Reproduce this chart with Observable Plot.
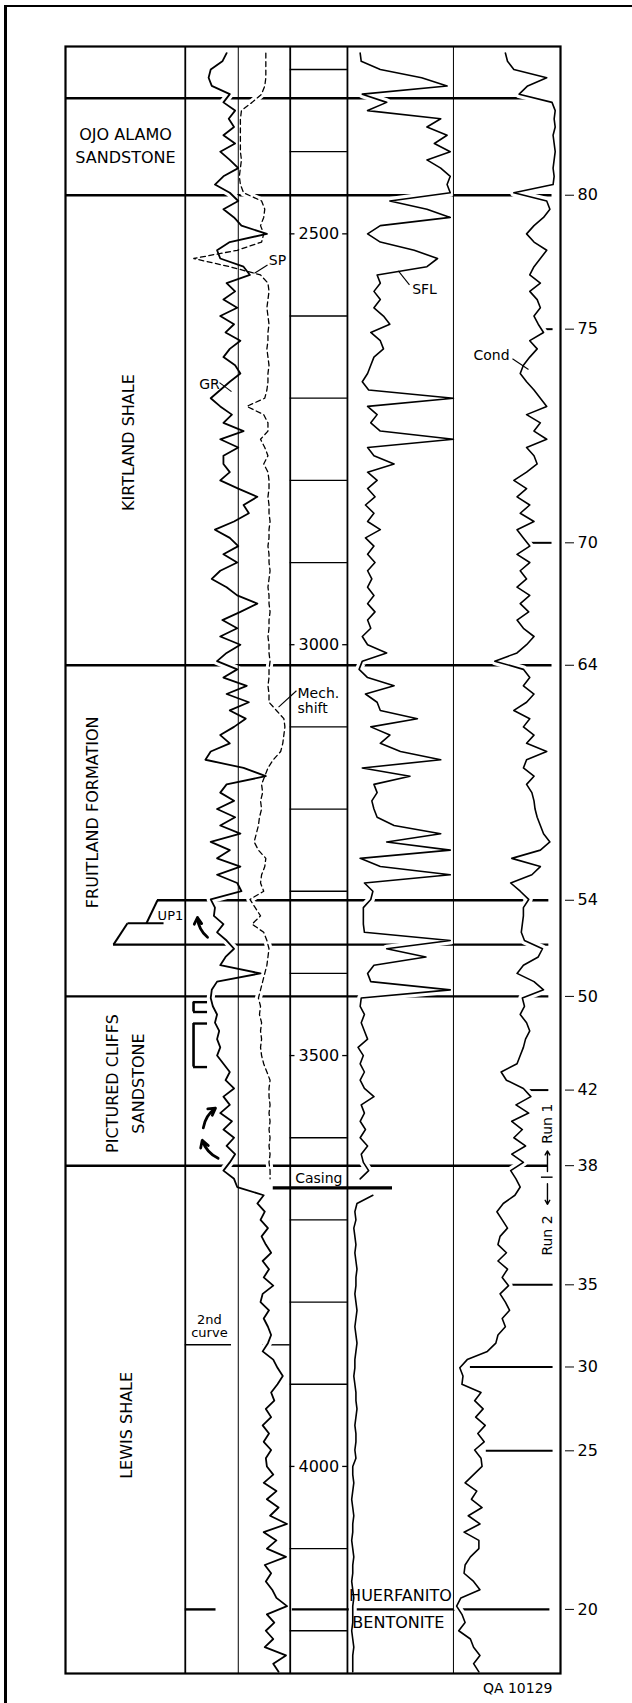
<!DOCTYPE html>
<html><head><meta charset="utf-8">
<script src="https://cdn.jsdelivr.net/npm/d3@7"></script>
<script src="https://cdn.jsdelivr.net/npm/@observablehq/plot@0.6"></script>
<style>
html,body{margin:0;padding:0;background:#fff;}
#wrap{position:relative;width:632px;height:1703px;overflow:hidden;background:#fff;}
#wrap svg{position:absolute;left:0;top:0;}
#frame{position:absolute;left:4px;top:5px;width:700px;height:1800px;border-left:3px solid #000;border-top:2.5px solid #000;pointer-events:none;}
</style></head><body><div id="wrap"></div>
<script>
// ---------- DATA ----------
const depthTop = 2280, depthStep = 10;           // sample grid, ft
// Gamma ray (track 1, 0-100 deflection), 2280-4250 ft
const grValues = [
 39,35,24,22,25,42,36,47,41,46, 36,47,33,42,50,36,28,42,50,36, 46,53,77,42,30,33,55,61,39,47, 36,49,33,46,38,52,42,36,47,52, 42,33,24,33,44,36,55,33,50,36,
 36,42,33,50,68,55,60,46,28,42, 50,36,49,33,25,39,49,68,52,35, 49,33,52,39,30,49,36,58,39,60, 42,57,46,33,42,24,19,55,76,39, 33,46,30,47,33,52,24,42,30,
 52,30,49,53,24,28,27,36,30,39, 46,38,33,71,30,25,24,26,30,28, 32,30,33,30,36,42,38,46,36,42, 33,44,36,46,39,47,42,36,46,49, 74,68,75,71,78,72,
 76,81,73,79,74,83,73,71,79,74, 78,81,78,73,83,87,92,87,81,84, 76,81,73,79,74,81,76,
 77,83,74,86,77,88,80,96,74,86, 77,95,75,81,76,82,86,96,77,84, 76,83,75,95,83,88
];
// Spontaneous potential (track 1), 2280-3650 ft (run 1 only)
const spValues = [
 76,76,76,76,75,72,63,53,52,52, 52,52,52,53,52,51,52,55,72,75, 74,71,74,72,49,8,42,71,78,79, 78,77,78,79,78,78,77,78,79,78, 78,77,75,58,74,78,78,71,75,78,
 74,78,79,79,78,79,79,80,79,79, 78,79,79,80,79,78,79,79,80,79, 79,78,79,79,80,79,79,78,79,79, 86,93,94,93,92,90,83,78,75,72, 73,71,72,70,69,67,65,69,76,
 75,72,71,74,61,66,71,63,74,77, 79,78,77,75,73,71,69,71,70,72, 71,72,71,72,74,77,80,79,79,80, 79,80,79,80,79,80,79,80,80
];
// SFL resistivity (track 2), run 1: 2280-3650 ft
const sflRun1 = [
 12,13,31,70,94,14,37,19,88,75, 94,82,97,75,88,97,94,97,40,75, 97,31,19,31,63,85,75,28,31,25, 31,25,34,40,22,31,34,25,22,19, 14,20,100,19,28,22,31,100,19,25,
 44,19,28,19,26,17,25,19,31,17, 25,19,26,19,23,19,25,19,26,19, 22,14,19,37,14,11,19,44,17,28, 31,66,22,40,31,50,88,14,59,25, 28,23,25,28,44,88,37,97,12,
 31,97,16,24,22,15,15,15,16,97, 37,74,25,19,22,97,13,12,16,13, 16,19,10,15,12,16,12,16,25,13, 16,12,17,12,19,13,15,20,12
];
// SFL run 2: 3670-4250 ft
const sflRun2Top = 3670;
const sflRun2 = [
 24,9,7,8,6,7, 8,7,8,9,8,8,7,8,9,8, 7,8,9,8,7,7,6,7,8,8, 9,8,7,8,8,7,8,
 5,5,6,5,4,5,6,5,5,4, 5,6,5,5,4,5,6,5,5,5, 4,5,6,5,5,5
];
// Conductivity (track 3), 2280-4250 ft
const condValues = [
 49,51,57,88,70,62,93,96,95,96, 94,95,96,95,94,95,94,57,88,91, 85,76,69,76,88,82,76,72,82,72, 79,82,76,80,85,72,79,72,66,63, 69,76,82,88,69,82,76,88,69,76,
 79,69,57,69,60,72,63,76,60,66, 72,60,72,63,69,60,72,63,71,60, 66,76,69,60,39,66,72,66,76,69, 57,72,66,76,69,88,69,66,76,69, 74,76,77,79,82,85,91,82,55,
 82,74,54,63,71,66,66,65,64,67, 84,80,66,60,76,85,65,67,63,69, 72,68,66,63,60,45,50,66,73,59, 71,55,65,57,68,55,66,54,59,63, 58,47,41,46,51,44,
 42,50,42,51,46,52,44,49,53,46, 49,42,40,32,13,6,9,8,26,20, 28,21,30,23,29,20,26,
 27,19,11,22,17,27,14,25,10,24, 24,16,11,10,19,25,7,3,8,11, 5,16,19,25,19,24
];
// Right-hand marker numbers and their depths
const markerLabels = ["80","75","70","64","54","50","42","38","35","30","25","20"];
const markerDepths = [2453,2616,2876,3025,3311,3428,3542,3634,3779,3879,3981,4174];
// Depth column labels
const depthLabels = [2500, 3000, 3500, 4000];
// Formations (each line of a name as its own entry)
const formationLines = ["OJO ALAMO","SANDSTONE","KIRTLAND SHALE","FRUITLAND FORMATION","PICTURED CLIFFS","SANDSTONE","LEWIS SHALE"];
const formationTops = [2335, 2453, 3025, 3428, 3634];
// Perforated intervals (brackets)
const perfTops = [3435, 3461];
const perfBases = [3447, 3514];
const casingDepth = 3661;
const spliceDepth = 3852;
const huerfanitoDepth = 4174;

// ---------- LAYOUT (chart units: 1 unit ≈ 1.06 px) ----------
const COL = {grLeft: 113, grMid: 163, depthLeft: 212, depthRight: 266, sflLeft: 266, condLeft: 366, right: 467};
const depthMid = (COL.depthLeft + COL.depthRight) / 2;

const depthAt = i => depthTop + i * depthStep;
const grRows = grValues.map((v, i) => ({depth: depthAt(i), x: COL.grLeft + v}));
const spRows = spValues.map((v, i) => ({depth: depthAt(i), x: COL.grLeft + v}));
const sflRows = [
  ...sflRun1.map((v, i) => ({run: 1, depth: depthAt(i), x: COL.sflLeft + v})),
  ...sflRun2.map((v, i) => ({run: 2, depth: sflRun2Top + i * depthStep, x: COL.sflLeft + v}))
];
const condRows = condValues.map((v, i) => ({depth: depthAt(i), x: COL.condLeft + v}));

const boundaries = [
  {depth: formationTops[0], x1: 0, x2: 447},
  {depth: formationTops[1], x1: 0, x2: 459},
  {depth: formationTops[2], x1: 0, x2: 459},
  {depth: markerDepths[4], x1: 86.8, x2: 456},
  {depth: 3365, x1: 45.3, x2: 456},
  {depth: formationTops[3], x1: 0, x2: 456},
  {depth: formationTops[4], x1: 0, x2: 455},
  {depth: huerfanitoDepth, x1: 113, x2: 142},
  {depth: huerfanitoDepth, x1: 214, x2: 457}
];
const markerLines = [
  {depth: markerDepths[1], x1: 450, x2: 460},
  {depth: markerDepths[2], x1: 437, x2: 459},
  {depth: markerDepths[6], x1: 431, x2: 456},
  {depth: markerDepths[8], x1: 420, x2: 460},
  {depth: markerDepths[9], x1: 382, x2: 460},
  {depth: markerDepths[10], x1: 397, x2: 460}
];
const up1Segs = [
  {x1: 86.8, y1: 3311, x2: 76.4, y2: 3339},
  {x1: 58.5, y1: 3339, x2: 92.5, y2: 3339},
  {x1: 58.5, y1: 3339, x2: 45.3, y2: 3365}
];
const perfs = perfTops.map((t, i) => ({top: t, base: perfBases[i]}));
const flowArrows = [
  {x1: 134, y1: 3356, x2: 124.5, y2: 3332},
  {x1: 130, y1: 3588, x2: 141.5, y2: 3564},
  {x1: 144, y1: 3625, x2: 129, y2: 3603}
];
const formationLabels = formationLines.map((name, i) => ({
  name,
  x: [56.6, 56.6, 59.4, 25.5, 44.3, 68.9, 57.5][i],
  depth: [2380, 2407, 2754, 3204, 3534, 3534, 3950][i],
  rotate: i < 2 ? 0 : -90
}));
const curveLabels = [
  {t: "GR", x: 135.8, depth: 2683},
  {t: "SP", x: 200, depth: 2532},
  {t: "SFL", x: 338.7, depth: 2568},
  {t: "Cond", x: 401.9, depth: 2648}
];
const pointers = [
  {x1: 145.3, y1: 2681, x2: 156.6, y2: 2692},
  {x1: 190.6, y1: 2538, x2: 178.3, y2: 2548},
  {x1: 324.5, y1: 2562, x2: 314, y2: 2545},
  {x1: 421.7, y1: 2652, x2: 436.8, y2: 2665},
  {x1: 217.9, y1: 3056, x2: 201, y2: 3076}
];
const gridDepths = d3.range(2300, 4300, 100).filter(d => d % 500 !== 0);
const labelByDepth = new Map(markerDepths.map((d, i) => [d, markerLabels[i]]));

const halo = {stroke: "#fff", strokeWidth: 8, strokeLinejoin: "round"};
const ink = "#000";

const chart = Plot.plot({
  width: 632, height: 1703,
  marginLeft: 65, marginRight: 72, marginTop: 46, marginBottom: 30,
  x: {domain: [0, COL.right], axis: null},
  y: {domain: [2272, 4252], reverse: true, axis: null},
  style: {fontFamily: "'DejaVu Sans', sans-serif", fontSize: "16px", color: "#000", background: "transparent", overflow: "visible"},
  marks: [
    // formation boundaries and marker lines
    Plot.ruleY(boundaries, {y: "depth", x1: "x1", x2: "x2", stroke: ink, strokeWidth: 2.4}),
    Plot.ruleY(markerLines, {y: "depth", x1: "x1", x2: "x2", stroke: ink, strokeWidth: 2}),
    Plot.ruleY([spliceDepth], {x1: COL.grLeft, x2: 156.6, stroke: ink, strokeWidth: 1.6}),
    Plot.ruleY([spliceDepth], {x1: 186, x2: COL.depthLeft, stroke: ink, strokeWidth: 1.4}),
    // halos so that boundary lines break at the curves
    Plot.line(grRows, {x: "x", y: "depth", ...halo}),
    Plot.line(spRows, {x: "x", y: "depth", ...halo, strokeWidth: 7}),
    Plot.line(sflRows, {x: "x", y: "depth", z: "run", ...halo}),
    Plot.line(condRows, {x: "x", y: "depth", ...halo}),
    // columns and frame
    Plot.ruleX([COL.grLeft, COL.depthLeft, COL.depthRight], {stroke: ink, strokeWidth: 1.8}),
    Plot.ruleX([COL.grMid, COL.condLeft], {stroke: ink, strokeWidth: 1}),
    Plot.frame({stroke: ink, strokeWidth: 2.2}),
    // depth column
    Plot.ruleY(gridDepths, {x1: COL.depthLeft, x2: COL.depthRight, stroke: ink, strokeWidth: 1.3}),
    Plot.ruleY(depthLabels, {x1: COL.depthLeft, x2: COL.depthLeft + 4.5, stroke: ink, strokeWidth: 1.3}),
    Plot.ruleY(depthLabels, {x1: COL.depthRight - 4.5, x2: COL.depthRight, stroke: ink, strokeWidth: 1.3}),
    Plot.text(depthLabels, {x: depthMid, y: d => d, text: d => String(d), fontSize: 16, fill: ink}),
    // casing
    Plot.ruleY([casingDepth], {x1: 196, x2: 308.5, stroke: ink, strokeWidth: 3.2}),
    Plot.text(["Casing"], {x: depthMid, y: 3650, text: d => d, fontSize: 14, fill: ink}),
    // UP1, perforations, arrows
    Plot.link(up1Segs, {x1: "x1", y1: "y1", x2: "x2", y2: "y2", stroke: ink, strokeWidth: 2}),
    Plot.text(["UP1"], {x: 99, y: 3330, text: d => d, fontSize: 13, fill: ink}),
    Plot.ruleX(perfs, {x: 120.8, y1: "top", y2: "base", stroke: ink, strokeWidth: 2.6}),
    Plot.ruleY(perfs, {y: "top", x1: 120.8, x2: 134, stroke: ink, strokeWidth: 2.4}),
    Plot.ruleY(perfs, {y: "base", x1: 120.8, x2: 134, stroke: ink, strokeWidth: 2.4}),
    Plot.arrow(flowArrows, {x1: "x1", y1: "y1", x2: "x2", y2: "y2", bend: true, stroke: ink, strokeWidth: 2.8, headLength: 7}),
    // curves
    Plot.line(spRows, {x: "x", y: "depth", stroke: ink, strokeWidth: 1.3, strokeDasharray: "5,3.5"}),
    Plot.line(grRows, {x: "x", y: "depth", stroke: ink, strokeWidth: 1.8, strokeLinejoin: "round"}),
    Plot.line(sflRows, {x: "x", y: "depth", z: "run", stroke: ink, strokeWidth: 1.6, strokeLinejoin: "round"}),
    Plot.line(condRows, {x: "x", y: "depth", stroke: ink, strokeWidth: 1.6, strokeLinejoin: "round"}),
    // formation names
    Plot.text(formationLabels, {x: "x", y: "depth", text: "name", rotate: "rotate", fontSize: 16, fill: ink}),
    // curve labels and pointers
    Plot.text(curveLabels, {x: "x", y: "depth", text: "t", fontSize: 14, fill: ink}),
    Plot.link(pointers, {x1: "x1", y1: "y1", x2: "x2", y2: "y2", stroke: ink, strokeWidth: 1.1}),
    Plot.text(["Mech.", "shift"], {x: 218.9, y: (d, i) => [3059, 3078][i], text: d => d, textAnchor: "start", fontSize: 14, fill: ink}),
    Plot.text(["2nd", "curve"], {x: 135.8, y: (d, i) => [3822, 3838][i], text: d => d, fontSize: 13, fill: ink}),
    Plot.text(["HUERFANITO", "BENTONITE"], {x: (d, i) => [316, 314][i], y: (d, i) => [4157, 4190][i], text: d => d, fontSize: 16, fill: ink}),
    // run annotations
    Plot.text(["Run 1", "Run 2"], {x: 454.7, y: (d, i) => [3583, 3719][i], text: d => d, rotate: -90, fontSize: 14, fill: ink}),
    Plot.ruleY([3648], {x1: 449, x2: 460, stroke: ink, strokeWidth: 1.4}),
    Plot.arrow([{a: 3641, b: 3616}, {a: 3656, b: 3681}], {x1: 454.7, x2: 454.7, y1: "a", y2: "b", stroke: ink, strokeWidth: 1.4, headLength: 5}),
    // right marker axis
    Plot.axisY(markerDepths, {anchor: "right", tickSize: 9, tickPadding: 4, dx: 4, tickFormat: d => labelByDepth.get(d), fontSize: 16, label: null, stroke: ink, fill: ink}),
    Plot.text(["QA 10129"], {frameAnchor: "bottom-right", dx: -8, dy: 19, text: d => d, textAnchor: "end", fontSize: 14, fill: ink})
  ]
});
const wrap = document.getElementById("wrap");
wrap.appendChild(chart);
const frame = document.createElement("div");
frame.id = "frame";
wrap.appendChild(frame);
</script></body></html>
